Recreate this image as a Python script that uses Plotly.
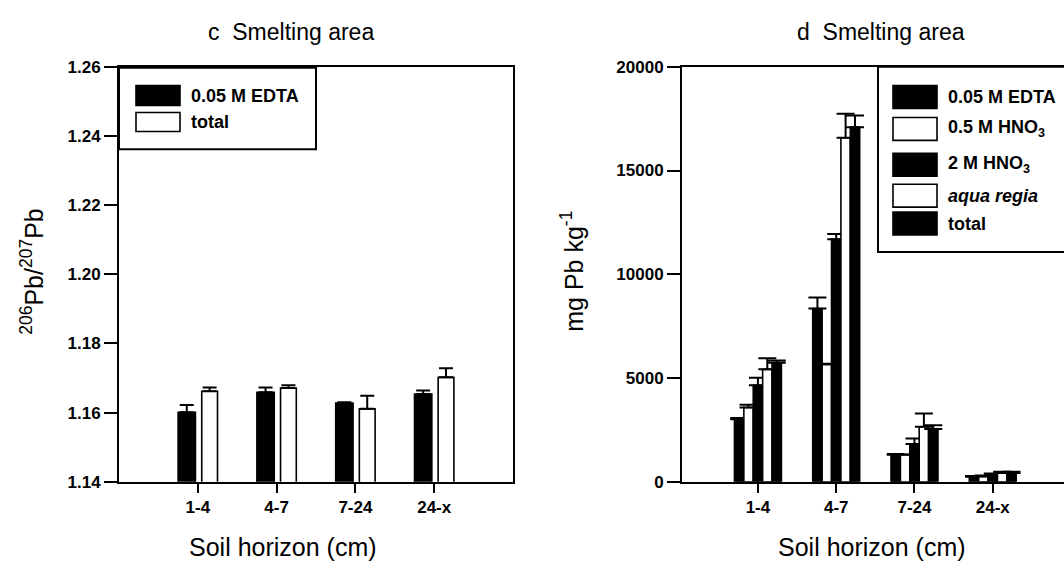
import plotly.graph_objects as go

W, H = 1064, 568  # reference pixel frame used for positioning
# observed capture mapping: y_shown = 8 + 0.971 * y_page -> invert it
Y0, YS = 8.0, 0.971

# ---------------- data ----------------
horizons = ["1-4", "4-7", "7-24", "24-x"]

# panel c: 206Pb/207Pb ratios
ratio_edta = [1.1601, 1.1659, 1.1628, 1.1654]
ratio_edta_err = [0.0021, 0.0014, 0.0002, 0.0010]
ratio_total = [1.1662, 1.1671, 1.1611, 1.1702]
ratio_total_err = [0.0011, 0.0008, 0.0038, 0.0026]

# panel d: mg Pb kg-1
pb_edta = [3020, 8345, 1310, 240]
pb_edta_err = [50, 540, 30, 40]
pb_hno3_05 = [3580, 5660, 1310, 260]
pb_hno3_05_err = [130, 30, 10, 40]
pb_hno3_2 = [4650, 11690, 1820, 340]
pb_hno3_2_err = [370, 250, 270, 60]
pb_aqua = [5420, 16580, 2650, 430]
pb_aqua_err = [530, 1150, 640, 60]
pb_total = [5740, 17090, 2540, 430]
pb_total_err = [110, 560, 190, 60]

legend_c = ["0.05 M EDTA", "total"]
legend_d = ["0.05 M EDTA", "0.5 M HNO<sub>3</sub>", "2 M HNO<sub>3</sub>",
            "<i>aqua regia</i>", "total"]

# ---------------- helpers ----------------
def px(x):
    return x / W

def py(y):
    return 1 - ((y - Y0) / YS) / H

FONT = "Liberation Sans, Arial, Helvetica, sans-serif"
BLACK = "#000000"

fig = go.Figure()

def add_bar(xaxis, yaxis, y, err, color, offset, width, capw):
    fig.add_trace(go.Bar(
        x=horizons, y=y, xaxis=xaxis, yaxis=yaxis,
        marker=dict(color=color, line=dict(color=BLACK, width=1.6)),
        offset=offset, width=width, showlegend=False, hoverinfo="skip",
        error_y=dict(type="data", array=err, arrayminus=[0] * len(err),
                     symmetric=False, color=BLACK, thickness=2, width=capw),
    ))

# panel c bars
add_bar("x", "y", ratio_edta, ratio_edta_err, BLACK, -0.25, 0.22, 7)
add_bar("x", "y", ratio_total, ratio_total_err, "#ffffff", 0.05, 0.2, 7)

# panel d bars
d_series = [(pb_edta, pb_edta_err, BLACK), (pb_hno3_05, pb_hno3_05_err, "#ffffff"),
            (pb_hno3_2, pb_hno3_2_err, BLACK), (pb_aqua, pb_aqua_err, "#ffffff"),
            (pb_total, pb_total_err, BLACK)]
for i, (vals, errs, col) in enumerate(d_series):
    add_bar("x2", "y2", vals, errs, col, -0.3 + 0.12 * i, 0.12, 9)

ydom = [py(483), py(66)]
axis_common = dict(showline=True, linecolor=BLACK, linewidth=2, showgrid=False,
                   zeroline=False, ticks="outside", tickcolor=BLACK, tickwidth=2,
                   fixedrange=True,
                   tickfont=dict(family=FONT, size=17, color=BLACK, weight="bold"))

fig.update_layout(
    width=W, height=H,
    margin=dict(l=0, r=0, t=0, b=0),
    paper_bgcolor="white", plot_bgcolor="white",
    barmode="overlay",
    showlegend=False,
    xaxis=dict(domain=[px(119), px(513)], anchor="y", range=[-1, 4],
               mirror=True, ticklen=9, **axis_common),
    yaxis=dict(domain=ydom, anchor="x", range=[1.14, 1.26], dtick=0.02,
               tickformat=".2f", mirror=True, ticklen=13, **axis_common),
    xaxis2=dict(domain=[px(682), 1], anchor="y2", range=[-0.97, 3.91],
                mirror=True, ticklen=9, **axis_common),
    yaxis2=dict(domain=ydom, anchor="x2", range=[0, 20000], dtick=5000,
                tickformat="d", mirror=False, ticklen=13, **axis_common),
)

ann = []
def text(x, y, t, size, angle=0, xanchor="center", weight="normal"):
    ann.append(dict(x=px(x), y=py(y), xref="paper", yref="paper", text=t,
                    showarrow=False, xanchor=xanchor, yanchor="middle",
                    textangle=angle,
                    font=dict(family=FONT, size=size, color=BLACK, weight=weight)))

# titles
text(291, 31, "c  Smelting area", 23)
text(881, 31, "d  Smelting area", 23)
# axis titles
text(283, 548, "Soil horizon (cm)", 25)
text(872, 548, "Soil horizon (cm)", 25)
text(32, 272, "<sup>206</sup>Pb/<sup>207</sup>Pb", 25, angle=-90)
text(572, 272, "mg Pb kg<sup>-1</sup>", 25, angle=-90)

shapes = []
def rect(x0, y0, x1, y1, fill, lw=2):
    shapes.append(dict(type="rect", xref="paper", yref="paper",
                       x0=px(x0), x1=px(x1), y0=py(y1), y1=py(y0),
                       line=dict(color=BLACK, width=lw), fillcolor=fill))

# legend c
rect(119, 67, 316, 149, "rgba(0,0,0,0)")
c_rows = [(85, 105, BLACK), (112, 131, "#ffffff")]
for (y0, y1, col), lab in zip(c_rows, legend_c):
    rect(136, y0, 180, y1, col, lw=1.6)
    text(189, (y0 + y1) / 2, lab, 18, xanchor="left", weight="bold")

# legend d
rect(878, 66, 1070, 252, "rgba(0,0,0,0)")
d_rows = [(85, 108, BLACK), (117, 140, "#ffffff"), (153, 176, BLACK),
          (184, 207, "#ffffff"), (212, 235, BLACK)]
for (y0, y1, col), lab in zip(d_rows, legend_d):
    rect(893, y0, 937, y1, col, lw=1.6)
    text(946, (y0 + y1) / 2, lab, 18, xanchor="left", weight="bold")

fig.update_layout(annotations=ann, shapes=shapes)
fig.write_html(
    "out.html",
    config={"displayModeBar": False, "staticPlot": True},
    post_script="document.body.style.margin='0';document.body.style.padding='0';"
                "document.body.style.overflow='hidden';",
)
